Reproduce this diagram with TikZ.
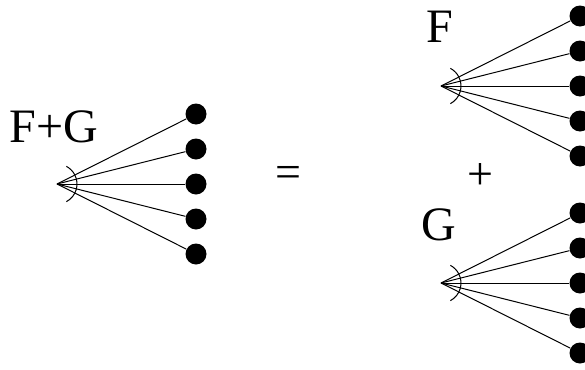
\documentclass[tikz,border=0pt]{standalone}
\usepackage{fontspec}
\setmainfont{Liberation Serif}
\usepackage{tikz}

\begin{document}
\begin{tikzpicture}[
  x=0.5pt, y=-0.5pt,
  leaf/.style={circle, fill=black, inner sep=0pt, minimum size=10.5pt},
  edge/.style={line width=0.5pt},
  lbl/.style={font=\fontsize{24}{28}\selectfont, anchor=base, inner sep=0pt},
  sign/.style={font=\fontsize{23}{27}\selectfont, inner sep=0pt}
]
\useasboundingbox (0,0) rectangle (585,370);

% Left: F+G
\coordinate (fg) at (57,184);
\foreach \i in {1,...,5}
  \node (fg\i) [leaf] at (196,{79+35*\i}) {};
\foreach \i in {1,...,5}
  \draw [edge] (fg) -- (fg\i);
\draw [edge] ([shift={(-62:10pt)}]fg) arc[start angle=-62, end angle=62, radius=10pt];
\node (fglbl) [lbl] at (54,142) {F+G};

% Signs
\node (eq) [sign] at (288,177) {=};
\node (plus) [sign] at (480,177) {+};

% Right top: F
\coordinate (f) at (441,86);
\foreach \i in {1,...,5}
  \node (f\i) [leaf] at (580,{-19+35*\i}) {};
\foreach \i in {1,...,5}
  \draw [edge] (f) -- (f\i);
\draw [edge] ([shift={(-62:10pt)}]f) arc[start angle=-62, end angle=62, radius=10pt];
\node (flbl) [lbl] at (440,42) {F};

% Right bottom: G
\coordinate (g) at (441,283);
\foreach \i in {1,...,5}
  \node (g\i) [leaf] at (580,{178+35*\i}) {};
\foreach \i in {1,...,5}
  \draw [edge] (g) -- (g\i);
\draw [edge] ([shift={(-62:10pt)}]g) arc[start angle=-62, end angle=62, radius=10pt];
\node (glbl) [lbl] at (439,240) {G};
\end{tikzpicture}
\end{document}
